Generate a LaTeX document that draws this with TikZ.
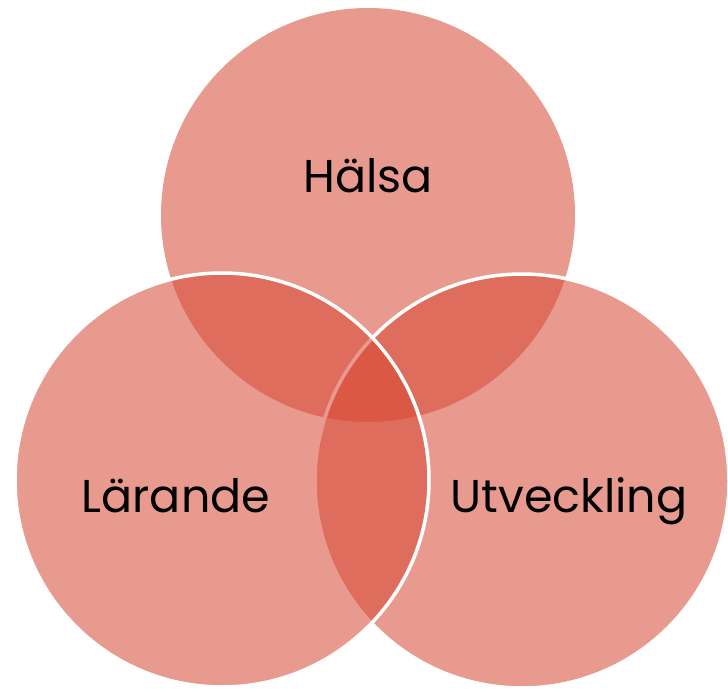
\documentclass[tikz,border=0pt]{standalone}
\usepackage{fontspec}
\setmainfont{Poppins}
\usepackage{xcolor}
\definecolor{setred}{RGB}{215,71,51}

\begin{document}
\begin{tikzpicture}[
  x=1pt, y=-1pt,
  set/.style={
    % The shape:
    circle,
    % The size:
    minimum size=414pt,
    inner sep=0pt,
    % The filling:
    fill=setred,
    fill opacity=0.55,
    % The border:
    draw=white,
    line width=3.5pt
  },
  label/.style={
    font=\fontsize{46}{50}\selectfont,
    text=black,
    anchor=base
  },
  ]

  \useasboundingbox (0,0) rectangle (728,688);

  % the three circles, top one first, left one last
  \node (halsa) [set, draw=none] at (368,215) {};
  \node (utv) [set] at (522,481) {};
  \node (lar) [set] at (222,480) {};

  % texts
  \node (halsatext) [label] at (368,192) {Hälsa};
  \node (lartext) [label] at (176,512) {Lärande};
  \node (utvtext) [label] at (569,512) {Utveckling};

\end{tikzpicture}
\end{document}
